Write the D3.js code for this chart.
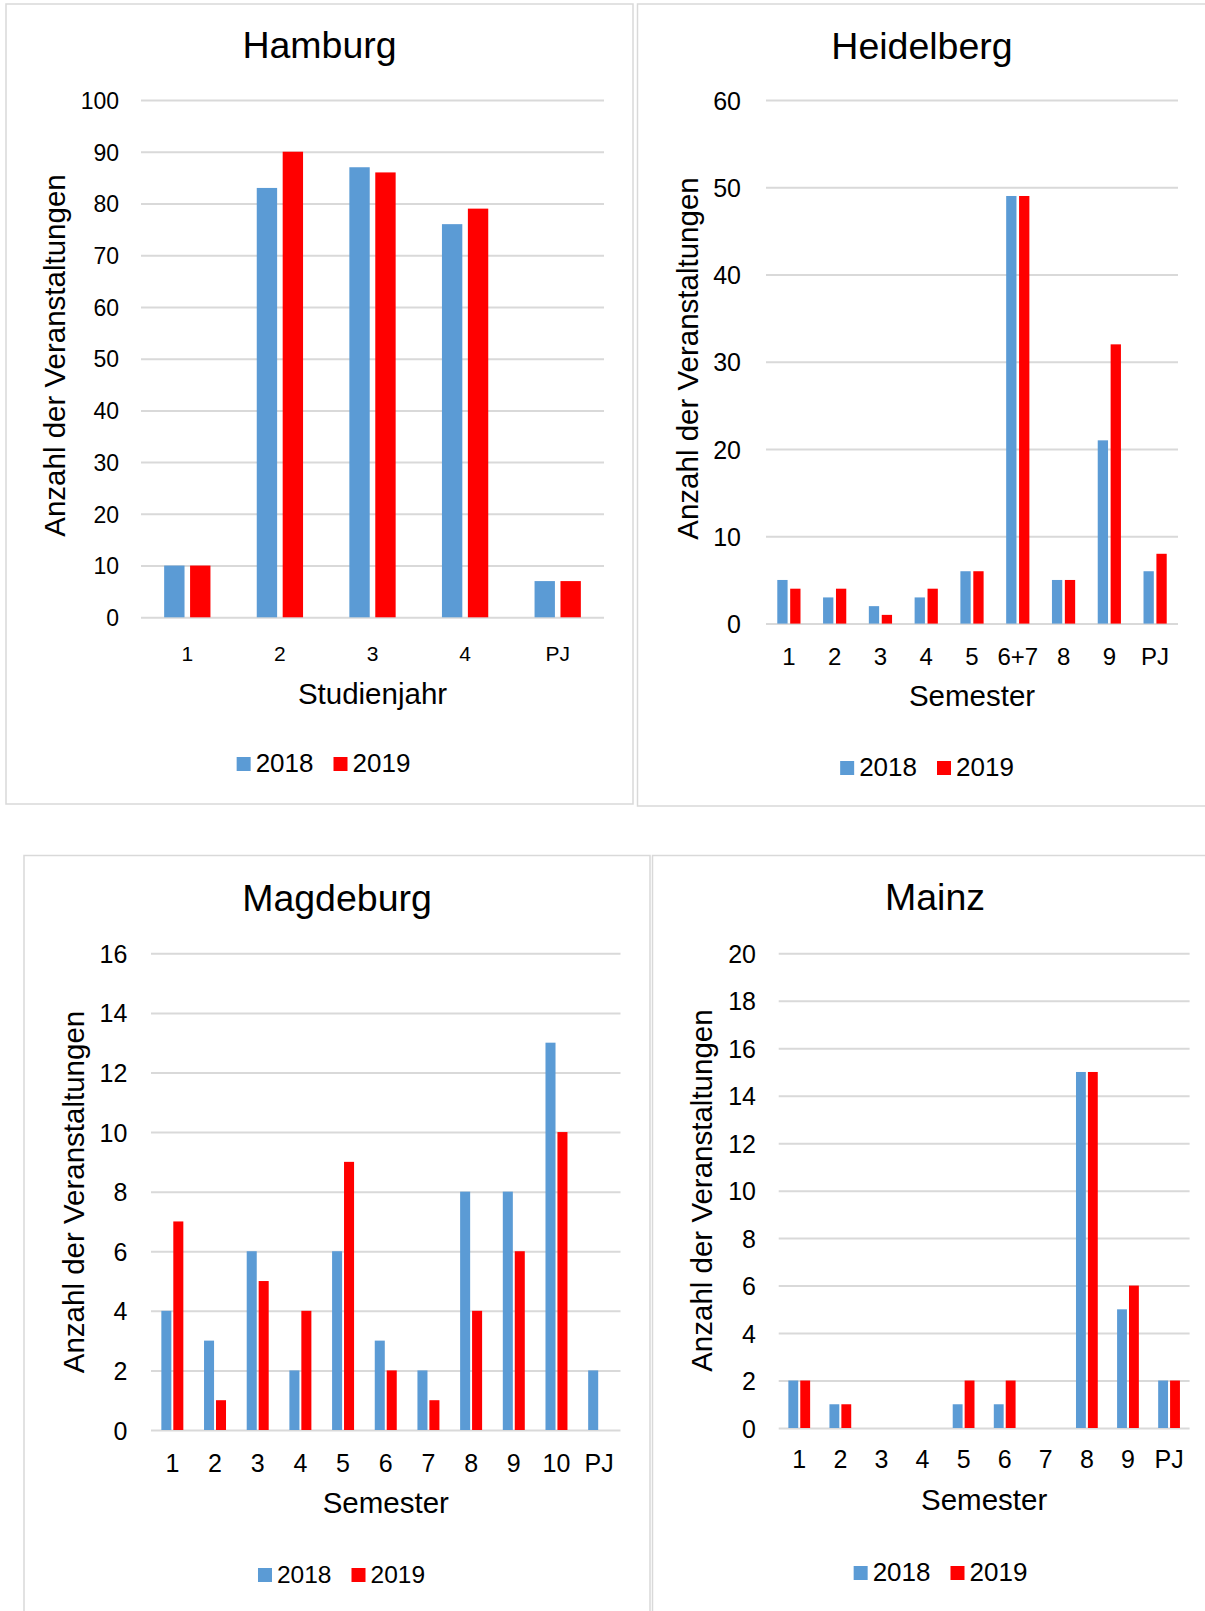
<!DOCTYPE html>
<html>
<head>
<meta charset="utf-8">
<script src="https://cdn.jsdelivr.net/npm/d3@7"></script>
<style>
  html, body { margin: 0; padding: 0; background: #fff; }
  svg { display: block; }
  text { font-family: "Liberation Sans", Arial, sans-serif; fill: #000; }
</style>
</head>
<body>
<svg id="chart" width="1205" height="1611"></svg>
<script>
// ---------- data ----------
const seriesNames = ["2018", "2019"];
const seriesColors = ["#5B9BD5", "#FF0000"];
const yAxisTitle = "Anzahl der Veranstaltungen";

const hamburgCats = ["1", "2", "3", "4", "PJ"];
const hamburg2018 = [10, 83, 87, 76, 7];
const hamburg2019 = [10, 90, 86, 79, 7];
const hamburgTicks = [0, 10, 20, 30, 40, 50, 60, 70, 80, 90, 100];

const heidelbergCats = ["1", "2", "3", "4", "5", "6+7", "8", "9", "PJ"];
const heidelberg2018 = [5, 3, 2, 3, 6, 49, 5, 21, 6];
const heidelberg2019 = [4, 4, 1, 4, 6, 49, 5, 32, 8];
const heidelbergTicks = [0, 10, 20, 30, 40, 50, 60];

const magdeburgCats = ["1", "2", "3", "4", "5", "6", "7", "8", "9", "10", "PJ"];
const magdeburg2018 = [4, 3, 6, 2, 6, 3, 2, 8, 8, 13, 2];
const magdeburg2019 = [7, 1, 5, 4, 9, 2, 1, 4, 6, 10, 0];
const magdeburgTicks = [0, 2, 4, 6, 8, 10, 12, 14, 16];

const mainzCats = ["1", "2", "3", "4", "5", "6", "7", "8", "9", "PJ"];
const mainz2018 = [2, 1, 0, 0, 1, 1, 0, 15, 5, 2];
const mainz2019 = [2, 1, 0, 0, 2, 2, 0, 15, 6, 2];
const mainzTicks = [0, 2, 4, 6, 8, 10, 12, 14, 16, 18, 20];

// ---------- layout ----------
const panels = [
  { title: "Hamburg", cats: hamburgCats, series: [hamburg2018, hamburg2019], ticks: hamburgTicks, xTitle: "Studienjahr",
    box: [6, 4, 633, 804],
    plot: { x0: 141, x1: 604, yTop: 100, yBot: 617.3 },
    titleX: 319.5, titleY: 58, tickFs: 23, tickPad: 22, catFs: 21, catBase: 661,
    xTitleY: 704, yTitleX: 65, yTitleY: 355.5, legendCx: 323.5, legendY: 772, legendFs: 26,
    bar: 0.22, gap: 0.06 },
  { title: "Heidelberg", cats: heidelbergCats, series: [heidelberg2018, heidelberg2019], ticks: heidelbergTicks, xTitle: "Semester",
    box: [637.5, 4, 1215, 806],
    plot: { x0: 766, x1: 1178, yTop: 100, yBot: 623.6 },
    titleX: 922, titleY: 59, tickFs: 25, tickPad: 25, catFs: 24, catBase: 665,
    xTitleY: 706, yTitleX: 698, yTitleY: 358.5, legendCx: 927, legendY: 776, legendFs: 26,
    bar: 0.225, gap: 0.057 },
  { title: "Magdeburg", cats: magdeburgCats, series: [magdeburg2018, magdeburg2019], ticks: magdeburgTicks, xTitle: "Semester",
    box: [24, 855.5, 650, 1625],
    plot: { x0: 151, x1: 620.5, yTop: 953.3, yBot: 1430 },
    titleX: 337, titleY: 911, tickFs: 25, tickPad: 23.6, catFs: 25, catBase: 1472,
    xTitleY: 1513, yTitleX: 83.5, yTitleY: 1192, legendCx: 341.5, legendY: 1583, legendFs: 24.5,
    bar: 0.235, gap: 0.045 },
  { title: "Mainz", cats: mainzCats, series: [mainz2018, mainz2019], ticks: mainzTicks, xTitle: "Semester",
    box: [652.5, 855.5, 1215, 1625],
    plot: { x0: 778.7, x1: 1189.6, yTop: 953.3, yBot: 1428 },
    titleX: 935, titleY: 910, tickFs: 25, tickPad: 22.7, catFs: 25, catBase: 1468,
    xTitleY: 1510, yTitleX: 712, yTitleY: 1190.6, legendCx: 940.5, legendY: 1581, legendFs: 26,
    bar: 0.24, gap: 0.05 }
];

const svg = d3.select("#chart");

panels.forEach(p => {
  const g = svg.append("g");

  // panel frame
  g.append("rect")
    .attr("x", p.box[0]).attr("y", p.box[1])
    .attr("width", p.box[2] - p.box[0]).attr("height", p.box[3] - p.box[1])
    .attr("fill", "none").attr("stroke", "#d9d9d9").attr("stroke-width", 1.5);

  const x = d3.scaleBand().domain(p.cats).range([p.plot.x0, p.plot.x1]).paddingInner(0).paddingOuter(0);
  const bw = x.bandwidth();
  const yMax = d3.max(p.ticks);
  const y = d3.scaleLinear().domain([0, yMax]).range([p.plot.yBot, p.plot.yTop]);

  const barW = bw * p.bar, gapW = bw * p.gap;
  const x1 = d3.scaleBand().domain(seriesNames)
    .range([bw / 2 - barW - gapW / 2, bw / 2 + barW + gapW / 2])
    .paddingInner(gapW / (barW + gapW)).paddingOuter(0);

  // gridlines
  const grid = g.append("g").attr("transform", `translate(${p.plot.x0},0)`)
    .call(d3.axisLeft(y).tickValues(p.ticks).tickSize(-(p.plot.x1 - p.plot.x0)).tickFormat(""));
  grid.select(".domain").remove();
  grid.selectAll(".tick line").attr("stroke", "#d9d9d9").attr("stroke-width", 2);

  // y tick labels
  const ya = g.append("g").attr("transform", `translate(${p.plot.x0},0)`)
    .call(d3.axisLeft(y).tickValues(p.ticks).tickSize(0).tickPadding(p.tickPad));
  ya.select(".domain").remove();
  ya.selectAll("text").attr("font-size", p.tickFs).attr("font-family", "Liberation Sans, Arial, sans-serif").attr("fill", "#000").attr("dy", "0.36em");

  // bars
  seriesNames.forEach((s, si) => {
    g.append("g").selectAll("rect")
      .data(p.cats.map((c, i) => ({ c, v: p.series[si][i] })))
      .join("rect")
      .attr("x", d => x(d.c) + x1(s))
      .attr("y", d => y(d.v))
      .attr("width", x1.bandwidth())
      .attr("height", d => y(0) - y(d.v))
      .attr("fill", seriesColors[si]);
  });

  // x category labels
  const xa = g.append("g").attr("transform", `translate(0,${p.catBase})`)
    .call(d3.axisBottom(x).tickSize(0).tickPadding(0));
  xa.select(".domain").remove();
  xa.selectAll("text").attr("dy", 0).attr("y", 0).attr("font-size", p.catFs)
    .attr("font-family", "Liberation Sans, Arial, sans-serif").attr("fill", "#000");

  // titles
  g.append("text").attr("x", p.titleX).attr("y", p.titleY).attr("text-anchor", "middle")
    .attr("font-size", 37.5).text(p.title);
  g.append("text").attr("x", (p.plot.x0 + p.plot.x1) / 2).attr("y", p.xTitleY).attr("text-anchor", "middle")
    .attr("font-size", 29.5).text(p.xTitle);
  g.append("text").attr("transform", `translate(${p.yTitleX},${p.yTitleY}) rotate(-90)`)
    .attr("text-anchor", "middle").attr("font-size", 29.5).text(yAxisTitle);

  // legend
  const lg = g.append("g");
  const sq = 14, sqGap = 5, itemGap = 20;
  let cx = 0;
  seriesNames.forEach((s, si) => {
    lg.append("rect").attr("x", cx).attr("y", -sq - 1).attr("width", sq).attr("height", sq).attr("fill", seriesColors[si]);
    const t = lg.append("text").attr("x", cx + sq + sqGap).attr("y", 0).attr("font-size", p.legendFs).text(s);
    cx += sq + sqGap + t.node().getComputedTextLength() + itemGap;
  });
  const total = cx - itemGap;
  lg.attr("transform", `translate(${p.legendCx - total / 2},${p.legendY})`);
});
</script>
</body>
</html>
